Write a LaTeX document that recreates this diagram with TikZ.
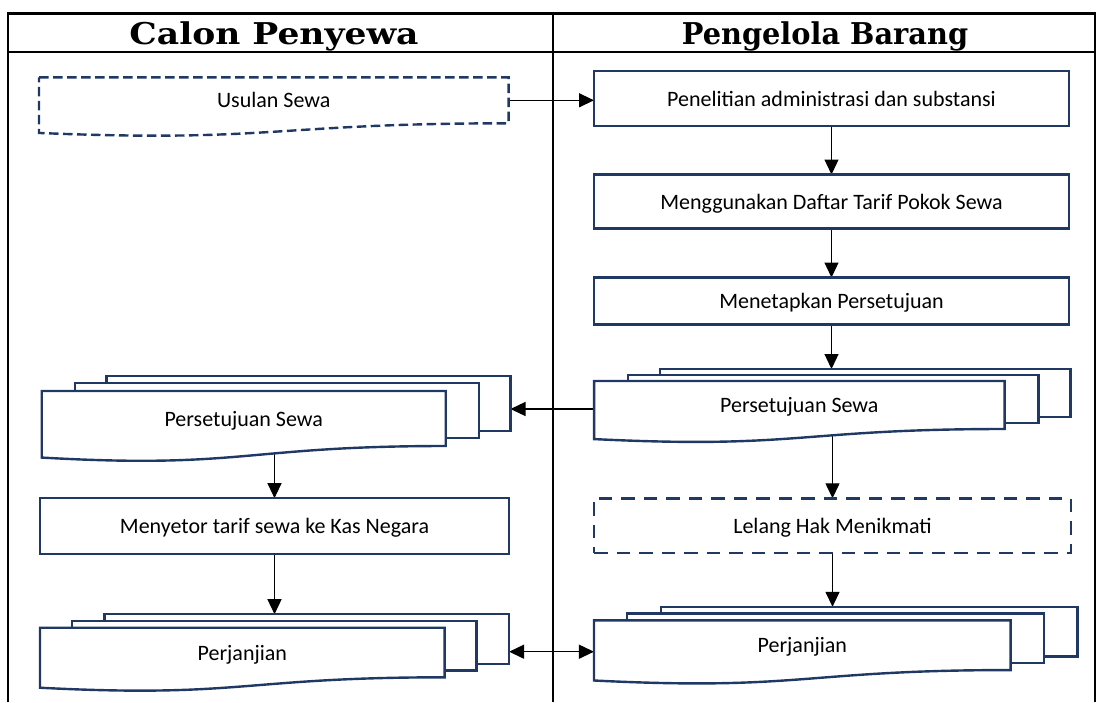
\documentclass[tikz,border=0pt]{standalone}
\usepackage{graphicx}
\usepackage{fontspec}
\setmainfont{Carlito}
\newfontfamily\headfont{DejaVu Serif}
\usetikzlibrary{arrows.meta,calc}
\definecolor{navy}{RGB}{32,56,100}
\pgfdeclarelayer{conn}
\pgfdeclarelayer{shapes}
\pgfsetlayers{conn,shapes,main}

% document outline with a wavy bottom, built from a node's anchors
\newcommand{\docshape}[2][]{%
  \draw[docline,#1] (#2.north west) -- (#2.north east) -- (#2.south east)
    .. controls (#2.south) and ($(#2.south)!-0.42!(#2.north)$)
    .. ($(#2.south west)!-0.21!(#2.north west)$) -- cycle;}

\tikzset{
  every node/.style={font=\fontsize{22}{26}\selectfont, inner sep=0pt, outer sep=0pt,
    text height=21pt, text depth=6pt},
  lane/.style={draw=black, line width=2.3pt},
  title/.style={font=\headfont\bfseries\fontsize{30}{36}\selectfont, anchor=base,
    text height=, text depth=},
  stepbox/.style={draw=navy, line width=2.4pt, fill=white},
  dashbox/.style={stepbox, dash pattern=on 13.5pt off 9pt},
  doctext/.style={},
  pagebox/.style={draw=navy, line width=2.4pt, fill=white},
  docline/.style={draw=navy, line width=2.4pt, fill=white, line join=miter},
  flow/.style={draw=black, line width=1.3pt, -{Triangle[length=15pt,width=14pt]}},
  both/.style={draw=black, line width=1.3pt, {Triangle[length=15pt,width=14pt]}-{Triangle[length=15pt,width=14pt]}},
}

\begin{document}
\begin{tikzpicture}[x=1pt,y=-1pt]
\useasboundingbox (0,0) rectangle (1097,702);

% swimlane table
\begin{pgfonlayer}{conn}
  \draw[lane] (8,702) -- (8,13.5) -- (1095,13.5) -- (1095,702);
  \draw[lane] (8,52.3) -- (1095,52.3);
  \draw[lane] (553,13.5) -- (553,702);
\end{pgfonlayer}
\node[title] (lanecp) at (274,44) {\scalebox{1.15}[1]{Calon Penyewa}};
\node[title] (lanepb) at (825,44) {\scalebox{0.96}[1]{Pengelola Barang}};

% Pengelola Barang process steps
\node[stepbox, minimum width=475pt, minimum height=55pt] (pen) at (831.5,98.5) {Penelitian administrasi dan substansi};
\node[stepbox, minimum width=475pt, minimum height=54pt] (meng) at (831.5,201.5) {Menggunakan Daftar Tarif Pokok Sewa};
\node[stepbox, minimum width=475pt, minimum height=47pt] (menet) at (831.5,301) {Menetapkan Persetujuan};
\node[dashbox, minimum width=477pt, minimum height=54.4pt] (lelang) at (832.5,525.5) {Lelang Hak Menikmati};

% Calon Penyewa step
\node[stepbox, minimum width=469pt, minimum height=55.7pt] (setor) at (274.5,526) {Menyetor tarif sewa ke Kas Negara};

% documents (text areas)
\node[doctext, minimum width=469.6pt, minimum height=46pt] (usul) at (273.8,100.3) {Usulan Sewa};
\node[doctext, minimum width=410.5pt, minimum height=48pt] (ps2) at (799.3,405) {Persetujuan Sewa};
\node[doctext, minimum width=404pt, minimum height=55pt] (ps1) at (243.7,418.5) {Persetujuan Sewa};
\node[doctext, minimum width=404.6pt, minimum height=49.6pt] (pj1) at (242.3,652.5) {Perjanjian};
\node[doctext, minimum width=416.7pt, minimum height=49.7pt] (pj2) at (802.3,645.2) {Perjanjian};

\begin{pgfonlayer}{shapes}
  \docshape[dash pattern=on 9.5pt off 4.5pt]{usul}
  % Persetujuan Sewa, Pengelola Barang
  \node[pagebox, minimum width=410.5pt, minimum height=48pt] (ps2c) at (865.3,393) {};
  \node[pagebox, minimum width=410.5pt, minimum height=48pt] (ps2b) at (833.3,399) {};
  \docshape{ps2}
  % Persetujuan Sewa, Calon Penyewa
  \node[pagebox, minimum width=404pt, minimum height=55pt] (ps1c) at (308.5,403.5) {};
  \node[pagebox, minimum width=404pt, minimum height=55pt] (ps1b) at (276.7,410.5) {};
  \docshape{ps1}
  % Perjanjian, Calon Penyewa
  \node[pagebox, minimum width=404.6pt, minimum height=49.6pt] (pj1c) at (306.8,639) {};
  \node[pagebox, minimum width=404.6pt, minimum height=49.6pt] (pj1b) at (274.3,645.5) {};
  \docshape{pj1}
  % Perjanjian, Pengelola Barang
  \node[pagebox, minimum width=416.7pt, minimum height=49.7pt] (pj2c) at (869.2,631.7) {};
  \node[pagebox, minimum width=416.7pt, minimum height=49.7pt] (pj2b) at (835.6,638.2) {};
  \docshape{pj2}
\end{pgfonlayer}

% connectors
\begin{pgfonlayer}{conn}
  \draw[flow] (usul.east) -- (usul.east -| pen.west);
  \draw[flow] (pen.south) -- (meng.north);
  \draw[flow] (meng.south) -- (menet.north);
  \draw[flow] (menet.south) -- (menet.south |- ps2c.north);
  \draw[flow] ([yshift=-4pt]ps2.west) -- ([yshift=-4pt]ps2.west -| ps1c.east);
  \draw[flow] (ps1.center -| setor.north) -- (setor.north);
  \draw[flow] (setor.south) -- (setor.south |- pj1c.north);
  \draw[flow] (ps2.center -| lelang.north) -- (lelang.north);
  \draw[flow] (lelang.south) -- (lelang.south |- pj2c.north);
  \draw[both] ([yshift=-6.5pt]pj2.west -| pj1c.east) -- ([yshift=-6.5pt]pj2.west);
\end{pgfonlayer}
\end{tikzpicture}
\end{document}
